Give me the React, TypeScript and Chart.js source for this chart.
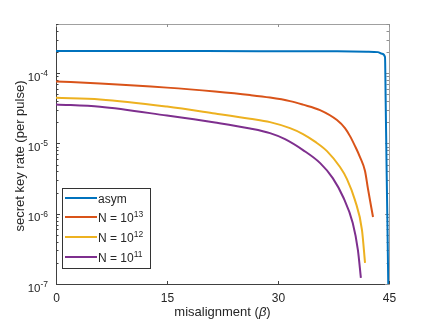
import React, { useEffect, useRef } from "react";
import { Chart, registerables } from "chart.js";

Chart.register(...registerables);

const xAsym = [0, 10, 20, 30, 38, 42, 43.5, 44.05, 44.46, 44.55, 44.66, 44.8, 44.9, 44.95];
const yAsym = [2.06e-4, 2.06e-4, 2.06e-4, 2.05e-4, 2.04e-4, 2.02e-4, 1.99e-4, 1.89e-4, 1.7e-4, 4.1e-5, 5.8e-6, 5.8e-7, 1e-7, 3e-8];

const xN13 = [0, 5.95, 15, 21.49, 26.22, 28.92, 31.62, 33.38, 35.68, 37.97, 39.05, 39.73, 40.41, 41.08, 41.76, 42.16, 42.84];
const yN13 = [7.62e-5, 7.14e-5, 6.22e-5, 5.46e-5, 4.87e-5, 4.49e-5, 4.0e-5, 3.56e-5, 2.98e-5, 2.15e-5, 1.65e-5, 1.27e-5, 9.16e-6, 6.4e-6, 4.05e-6, 2.25e-6, 8.97e-7];

const xN12 = [0, 5.95, 15, 21.49, 26.22, 28.92, 31.62, 33.38, 35.0, 36.62, 38.38, 39.32, 40.4, 41.35, 41.76];
const yN12 = [4.46e-5, 4.23e-5, 3.34e-5, 2.67e-5, 2.25e-5, 2.01e-5, 1.65e-5, 1.36e-5, 1.06e-5, 7.78e-6, 4.61e-6, 3.11e-6, 1.56e-6, 5.86e-7, 2.0e-7];

const xN11 = [0, 5.95, 15, 21.49, 26.22, 28.92, 30.95, 33.38, 35.7, 37.4, 38.8, 40.1, 40.8, 41.2];
const yN11 = [3.59e-5, 3.32e-5, 2.49e-5, 1.98e-5, 1.63e-5, 1.4e-5, 1.15e-5, 8.04e-6, 5.24e-6, 3.21e-6, 1.73e-6, 7.36e-7, 3.04e-7, 1.22e-7];

const seriesNames = ["asym", "N = 10", "N = 10", "N = 10"];
const seriesSups = ["", "13", "12", "11"];
const seriesColors = ["#0072BD", "#D95319", "#EDB120", "#7E2F8E"];

const xTicks = [0, 15, 30, 45];
const yDecades = [-7, -6, -5, -4];
const xMin = 0;
const xMax = 45;
const yMin = 1e-7;
const yMax = 5e-4;

const xTitle = "misalignment (";
const xTitleSym = "β";
const yTitle = "secret key rate (per pulse)";

const FONT = "'Liberation Sans', Arial, Helvetica, sans-serif";
const TXT = "#262626";

function toPts(xs: number[], ys: number[]) {
  return xs.map((x, i) => ({ x, y: ys[i] }));
}

function drawSup(
  ctx: CanvasRenderingContext2D,
  base: string,
  sup: string,
  x: number,
  y: number,
  align: "left" | "right",
  bs: number,
  ss: number,
  rise: number
) {
  ctx.font = `${bs}px ${FONT}`;
  const wb = ctx.measureText(base).width;
  ctx.font = `${ss}px ${FONT}`;
  const ws = ctx.measureText(sup).width;
  const start = align === "left" ? x : x - wb - ws;
  ctx.textAlign = "left";
  ctx.textBaseline = "alphabetic";
  ctx.font = `${bs}px ${FONT}`;
  ctx.fillText(base, start, y);
  ctx.font = `${ss}px ${FONT}`;
  ctx.fillText(sup, start + wb, y - rise);
}

const axesPlugin = {
  id: "matlabAxes",
  beforeDatasetsDraw(chart: any) {
    const { ctx, chartArea } = chart;
    const { left, right, top, bottom } = chartArea;
    const xs = chart.scales.x;
    const ys = chart.scales.y;
    ctx.save();
    ctx.lineWidth = 1;
    ctx.strokeStyle = "#a0a0a0";
    ctx.beginPath();
    ctx.moveTo(left, top + 0.5);
    ctx.lineTo(right + 0.5, top + 0.5);
    ctx.lineTo(right + 0.5, bottom);
    ctx.stroke();
    ctx.strokeStyle = "#404040";
    ctx.beginPath();
    ctx.moveTo(left + 0.5, top);
    ctx.lineTo(left + 0.5, bottom + 0.5);
    ctx.lineTo(right + 0.5, bottom + 0.5);
    ctx.stroke();
    ctx.fillStyle = TXT;
    ctx.font = `11px ${FONT}`;
    ctx.textAlign = "center";
    ctx.textBaseline = "alphabetic";
    for (const t of xTicks) {
      const px = Math.round(xs.getPixelForValue(t)) + 0.5;
      ctx.strokeStyle = "#404040";
      ctx.beginPath();
      ctx.moveTo(px, bottom);
      ctx.lineTo(px, bottom - 3);
      ctx.stroke();
      ctx.strokeStyle = "#909090";
      ctx.beginPath();
      ctx.moveTo(px, top);
      ctx.lineTo(px, top + 3);
      ctx.stroke();
      ctx.font = `12px ${FONT}`;
      ctx.fillText(String(t), px, bottom + 18);
    }
    for (let d = -7; d <= -4; d++) {
      for (let k = 1; k <= 9; k++) {
        const v = k * Math.pow(10, d);
        if (v < yMin * 0.999 || v > yMax * 1.001) continue;
        const py = Math.round(ys.getPixelForValue(v)) + 0.5;
        const len = k === 1 ? 4 : 2.5;
        ctx.strokeStyle = "#404040";
        ctx.beginPath();
        ctx.moveTo(left, py);
        ctx.lineTo(left + len, py);
        ctx.stroke();
        ctx.strokeStyle = "#909090";
        ctx.beginPath();
        ctx.moveTo(right, py);
        ctx.lineTo(right - len, py);
        ctx.stroke();
      }
    }
    for (const d of yDecades) {
      const py = ys.getPixelForValue(Math.pow(10, d));
      drawSup(ctx, "10", String(d), left - 8, py + 7.5, "right", 11.5, 8.5, 4.5);
    }
    // axis titles
    const tf = 13;
    ctx.font = `${tf}px ${FONT}`;
    ctx.textAlign = "left";
    ctx.textBaseline = "alphabetic";
    const w1 = ctx.measureText(xTitle).width;
    ctx.font = `italic ${tf}px ${FONT}`;
    const w2 = ctx.measureText(xTitleSym).width;
    ctx.font = `${tf}px ${FONT}`;
    const w3 = ctx.measureText(")").width;
    const cx = (left + right) / 2;
    const sx = cx - (w1 + w2 + w3) / 2;
    const by = 316;
    ctx.fillText(xTitle, sx, by);
    ctx.font = `italic ${tf}px ${FONT}`;
    ctx.fillText(xTitleSym, sx + w1, by);
    ctx.font = `${tf}px ${FONT}`;
    ctx.fillText(")", sx + w1 + w2, by);

    ctx.save();
    ctx.translate(24, 156);
    ctx.rotate(-Math.PI / 2);
    ctx.textAlign = "center";
    ctx.textBaseline = "alphabetic";
    ctx.fillText(yTitle, 0, 0);
    ctx.restore();
    ctx.restore();
  },
  afterDraw(chart: any) {
    const { ctx } = chart;
    ctx.save();
    const bx = 62.5, by = 188.5, bw = 88, bh = 80;
    ctx.fillStyle = "#ffffff";
    ctx.fillRect(bx, by, bw, bh);
    ctx.strokeStyle = "#333333";
    ctx.lineWidth = 1;
    ctx.strokeRect(bx, by, bw, bh);
    const rows = [198, 217, 237, 257];
    for (let i = 0; i < 4; i++) {
      ctx.strokeStyle = seriesColors[i];
      ctx.lineWidth = 2;
      ctx.beginPath();
      ctx.moveTo(65, rows[i]);
      ctx.lineTo(97, rows[i]);
      ctx.stroke();
      ctx.fillStyle = TXT;
      if (seriesSups[i]) {
        drawSup(ctx, seriesNames[i], seriesSups[i], 98, rows[i] + 4.5, "left", 12, 8.5, 5);
      } else {
        ctx.font = `12px ${FONT}`;
        ctx.textAlign = "left";
        ctx.textBaseline = "alphabetic";
        ctx.fillText(seriesNames[i], 98, rows[i] + 4.5);
      }
    }
    ctx.restore();
  },
};

export default function App() {
  const ref = useRef<HTMLCanvasElement>(null);
  useEffect(() => {
    if (!ref.current) return;
    const ds = [
      toPts(xAsym, yAsym),
      toPts(xN13, yN13),
      toPts(xN12, yN12),
      toPts(xN11, yN11),
    ].map((data, i) => ({
      label: seriesNames[i] + seriesSups[i],
      data,
      borderColor: seriesColors[i],
      backgroundColor: seriesColors[i],
      borderWidth: 2,
      pointRadius: 0,
      cubicInterpolationMode: "monotone" as const,
      fill: false,
    }));
    const chart = new Chart(ref.current, {
      type: "line",
      data: { datasets: ds },
      options: {
        animation: false,
        responsive: false,
        events: [],
        layout: { padding: { left: 56, top: 24, right: 42, bottom: 39 } },
        plugins: { legend: { display: false }, tooltip: { enabled: false } },
        scales: {
          x: { type: "linear", min: xMin, max: xMax, display: false },
          y: { type: "logarithmic", min: yMin, max: yMax, display: false },
        },
      },
      plugins: [axesPlugin],
    });
    return () => chart.destroy();
  }, []);
  return (
    <div style={{ position: "absolute", left: 0, top: 0, width: 431, height: 323, background: "#fff" }}>
      <canvas ref={ref} width={431} height={323} style={{ display: "block" }} />
    </div>
  );
}
